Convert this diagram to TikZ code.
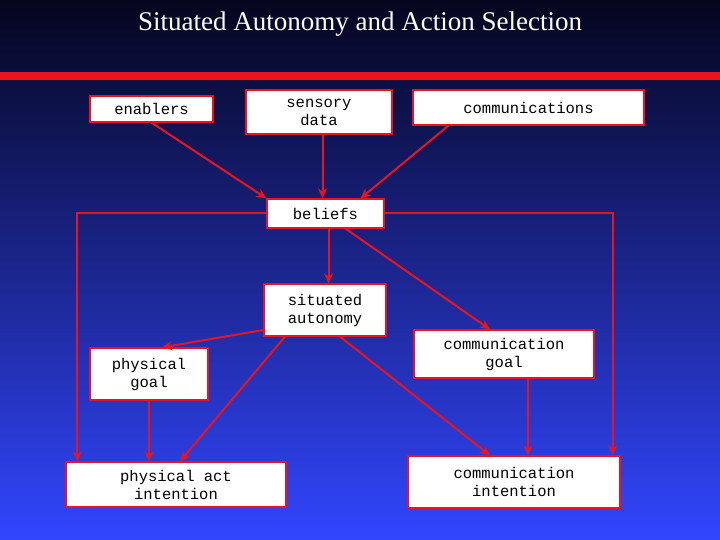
\documentclass[tikz,border=0pt]{standalone}
\usepackage{fontspec}
\setmainfont{Liberation Serif}
\setmonofont{Liberation Mono}
\usetikzlibrary{arrows.meta}
\definecolor{lred}{RGB}{235,20,30}
\begin{document}
\begin{tikzpicture}[x=1pt,y=-1pt,
  bx/.style={draw=lred,line width=1.2pt,fill=white,font=\ttfamily\fontsize{15.5}{18}\selectfont,align=center,inner sep=0pt},
  ar/.style={draw=lred,line width=2pt,-{Stealth[length=10pt,width=9pt]}}]
\shade[top color={rgb,255:red,5;green,5;blue,30},bottom color={rgb,255:red,50;green,70;blue,255}] (0,0) rectangle (720,540);
\useasboundingbox (0,0) rectangle (720,540);
\fill[lred] (0,72) rectangle (720,80);
\node[white,font=\fontsize{27}{30}\selectfont] (title) at (360,24) {Situated Autonomy and Action Selection};
\node[bx,minimum width=123,minimum height=26] (en) at (151.5,109) {enablers};
\node[bx,minimum width=146,minimum height=44] (sd) at (319,112) {sensory\\data};
\node[bx,minimum width=231,minimum height=35] (co) at (528.5,107.5) {communications};
\node[bx,minimum width=117,minimum height=29] (be) at (325.5,213.5) {beliefs};
\node[bx,minimum width=122,minimum height=52] (sa) at (325,310) {situated\\autonomy};
\node[bx,minimum width=118,minimum height=52] (pg) at (149,374) {physical\\goal};
\node[bx,minimum width=180,minimum height=48] (cg) at (504,354) {communication\\goal};
\node[bx,minimum width=220,minimum height=45] (pa) at (176,484.5) {physical act\\intention};
\node[bx,minimum width=212,minimum height=52] (ci) at (514,482) {communication\\intention};
\draw[ar] (en.south) -- (be.north west);
\draw[ar] (sd.south -| be.north) ++(-3,0) coordinate (s1) -- (s1 |- be.north);
\draw[ar] ([xshift=-80]co.south) -- ([xshift=35]be.north);
\draw[ar] ([xshift=3]be.south) -- ([xshift=3]be.south |- sa.north);
\draw[ar] ([xshift=20]be.south) -- ([xshift=-14]cg.north);
\draw[ar] ([yshift=-20]sa.west) -- ([xshift=13]pg.north);
\draw[ar] ([xshift=15]sa.south) -- ([xshift=-24]ci.north);
\draw[ar] ([xshift=-40]sa.south) -- ([xshift=4]pa.north);
\draw[ar] (pg.south) -- (pg.south |- pa.north);
\draw[ar] ([xshift=24]cg.south) -- ([xshift=24]cg.south |- ci.north);
\draw[ar] (be.west) -| ([xshift=12]pa.north west);
\draw[ar] (be.east) -| ([xshift=-8]ci.north east);
\end{tikzpicture}
\end{document}
